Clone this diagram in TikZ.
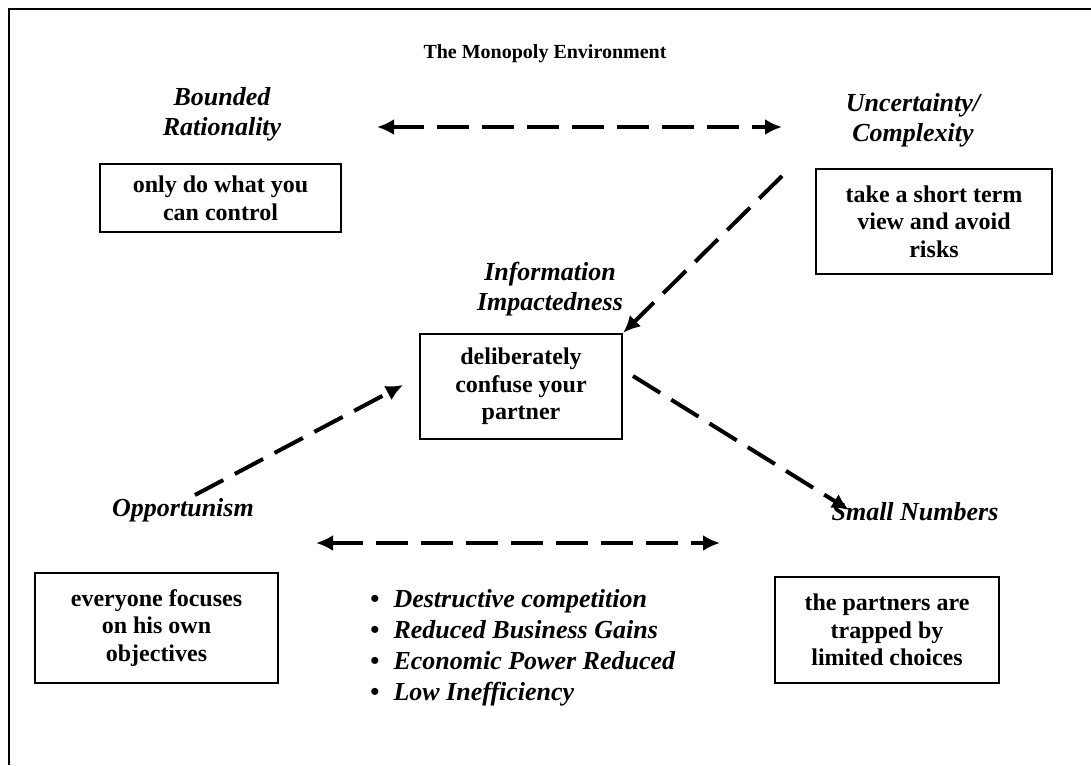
\documentclass[tikz,border=0pt]{standalone}
\usepackage{fontspec}
\setmainfont{Liberation Serif}
\usepackage{tikz}
\usetikzlibrary{arrows.meta}
\tikzset{>={Latex[length=8.5pt,width=8pt]}}
\tikzset{
  txt/.style={font=\fontsize{12}{13.8}\selectfont\bfseries},
  cbox/.style={txt, draw, line width=1.2pt, align=center, inner sep=0pt},
  clabel/.style={font=\fontsize{13}{15}\selectfont\bfseries\itshape, align=center, inner sep=0pt},
  dasharrow/.style={line width=2pt, dash pattern=on 16pt off 6.5pt},
}

\begin{document}
\begin{tikzpicture}[x=0.5pt, y=-0.5pt]
\useasboundingbox (0,0) rectangle (1091,765);
\draw[line width=1pt] (8.5,765) -- (8.5,9.5) -- (1091,9.5);

\node[font=\fontsize{10}{12}\selectfont\bfseries] (title) at (545,54) {The Monopoly Environment};

\node[clabel] (bound) at (222,114) {Bounded\\Rationality};
\node[clabel] (uncert) at (913,120) {Uncertainty/\\Complexity};
\node[clabel] (info) at (550,289) {Information\\Impactedness};
\node[clabel] (oppo) at (183,510) {Opportunism};
\node[clabel] (small) at (915,512) {Small Numbers};

\node[cbox, minimum width=120.5pt, minimum height=34pt] (ctrl) at (220.5,198) {only do what you\\can control};
\node[cbox, minimum width=118pt, minimum height=52.5pt] (risk) at (934,221.5) {take a short term\\view and avoid\\risks};
\node[cbox, minimum width=101pt, minimum height=52.5pt] (confuse) at (521,386.5) {deliberately\\confuse your\\partner};
\node[cbox, minimum width=121.5pt, minimum height=55pt] (goals) at (156.5,628) {everyone focuses\\on his own\\objectives};
\node[cbox, minimum width=112pt, minimum height=53pt] (trap) at (887,630) {the partners are\\trapped by\\limited choices};

\foreach \t [count=\i] in {Destructive competition, Reduced Business Gains, Economic Power Reduced, Low Inefficiency}
  \node[font=\fontsize{13}{15}\selectfont\bfseries, anchor=base west, inner sep=0pt] (gain\i) at (370,576+31*\i) {\textbullet\hspace{7pt}\textit{\t}};

\coordinate (boundEnd) at (377,127);
\coordinate (uncertEnd) at (782,127);
\coordinate (uncertTail) at (782,176);
\coordinate (oppoTail) at (195,495);
\coordinate (confuseIn) at (403,385);
\coordinate (confuseOut) at (633,376);
\coordinate (smallIn) at (849,510);
\coordinate (oppoEnd) at (316,543);
\coordinate (smallEnd) at (720,543);

\draw[dasharrow, <->] (boundEnd) -- (uncertEnd);
\draw[dasharrow, ->] (uncertTail) -- (confuse.north east);
\draw[dasharrow, ->] (oppoTail) -- (confuseIn);
\draw[dasharrow, ->] (confuseOut) -- (smallIn);
\draw[dasharrow, <->] (oppoEnd) -- (smallEnd);
\end{tikzpicture}
\end{document}
